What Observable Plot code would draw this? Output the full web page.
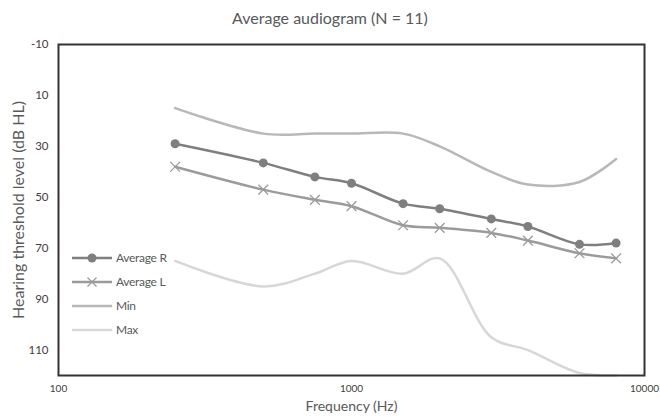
<!DOCTYPE html>
<html><head><meta charset="utf-8">
<script src="https://cdn.jsdelivr.net/npm/d3@7"></script>
<script src="https://cdn.jsdelivr.net/npm/@observablehq/plot@0.6"></script>
<style>
body{margin:0;background:#fff;font-family:Lato,sans-serif;}
#wrap{position:relative;width:660px;height:420px;overflow:hidden;}
#title{height:34px;line-height:36px;text-align:center;font-size:16px;color:#595959;}
#legend{position:absolute;left:66px;top:246px;}
</style></head><body>
<div id="wrap"><div id="title">Average audiogram (N = 11)</div><div id="chart"></div><div id="legend"></div></div>
<script>
const frequencies = [250, 500, 750, 1000, 1500, 2000, 3000, 4000, 6000, 8000];
const averageR = [29, 36.5, 42, 44.5, 52.5, 54.5, 58.5, 61.5, 68.5, 68];
const averageL = [38, 47, 51, 53.5, 61, 62, 64, 67, 72, 74];
const minValues = [15, 25, 25, 25, 25, 30, 40, 45, 44, 35];
const maxValues = [75, 85, 80, 75, 80, 74, 105, 110, 119, 120];
const seriesNames = ["Average R", "Average L", "Min", "Max"];
const xTicks = [100, 1000, 10000];
const yTicks = [-10, 10, 30, 50, 70, 90, 110];
const colors = ["#7f7f7f", "#9b9b9b", "#b8b8b8", "#d7d7d7"];

const seriesValues = [averageR, averageL, minValues, maxValues];
const rows = [];
seriesNames.forEach((s, i) => frequencies.forEach((f, j) => rows.push({series: s, freq: f, value: seriesValues[i][j]})));
const of = s => rows.filter(d => d.series === s);

const plot = Plot.plot({
  width: 660, height: 386,
  marginTop: 10, marginBottom: 45, marginLeft: 58, marginRight: 16,
  style: {fontFamily: "Lato, sans-serif", color: "#595959", background: "#fff"},
  x: {type: "log", domain: [100, 10000]},
  y: {domain: [-10, 120], reverse: true},
  color: {domain: seriesNames, range: colors},
  marks: [
    Plot.line(of("Max"), {x: "freq", y: "value", stroke: "series", strokeWidth: 2.5, curve: "catmull-rom"}),
    Plot.line(of("Min"), {x: "freq", y: "value", stroke: "series", strokeWidth: 2.5, curve: "catmull-rom"}),
    Plot.line(of("Average L"), {x: "freq", y: "value", stroke: "series", strokeWidth: 2.5, curve: "catmull-rom"}),
    Plot.dot(of("Average L"), {x: "freq", y: "value", stroke: "series", symbol: "times", r: 4.5, strokeWidth: 1.3}),
    Plot.line(of("Average R"), {x: "freq", y: "value", stroke: "series", strokeWidth: 2.5, curve: "catmull-rom"}),
    Plot.dot(of("Average R"), {x: "freq", y: "value", fill: "series", r: 4.5}),
    Plot.axisX({ticks: xTicks, tickFormat: d => String(d), tickSize: 0, tickPadding: 9, fontSize: 10, fill: "#404040", label: null}),
    Plot.axisY({ticks: yTicks, tickFormat: d => String(d), tickSize: 0, tickPadding: 10, fontSize: 11.5, fill: "#404040", label: null}),
    Plot.text(["Frequency (Hz)"], {frameAnchor: "bottom", dy: 35, fontSize: 14, fill: "#595959"}),
    Plot.text(["Hearing threshold level (dB HL)"], {frameAnchor: "left", textAnchor: "middle", dx: -40, rotate: -90, fontSize: 16, fill: "#595959"}),
    Plot.frame({stroke: "#333", strokeWidth: 2})
  ]
});
document.getElementById("chart").appendChild(plot);

// legend
const lg = d3.select("#legend").append("svg").attr("width", 120).attr("height", 100)
  .style("font-family", "Lato, sans-serif");
seriesNames.forEach((s, i) => {
  const g = lg.append("g").attr("transform", `translate(0,${12 + i * 24})`);
  g.append("line").attr("x1", 6).attr("x2", 46).attr("y1", 0).attr("y2", 0)
    .attr("stroke", colors[i]).attr("stroke-width", 2.5);
  if (i === 0) g.append("circle").attr("cx", 26).attr("cy", 0).attr("r", 4.5).attr("fill", colors[i]);
  if (i === 1) g.append("path").attr("d", "M21.5,-4.5L30.5,4.5M21.5,4.5L30.5,-4.5").attr("stroke", colors[i]).attr("stroke-width", 1.3);
  g.append("text").attr("x", 50).attr("y", 0).attr("dy", "0.35em").attr("font-size", 12)
    .attr("fill", "#595959").attr("letter-spacing", "-0.3").text(s);
});
</script>
</body></html>
